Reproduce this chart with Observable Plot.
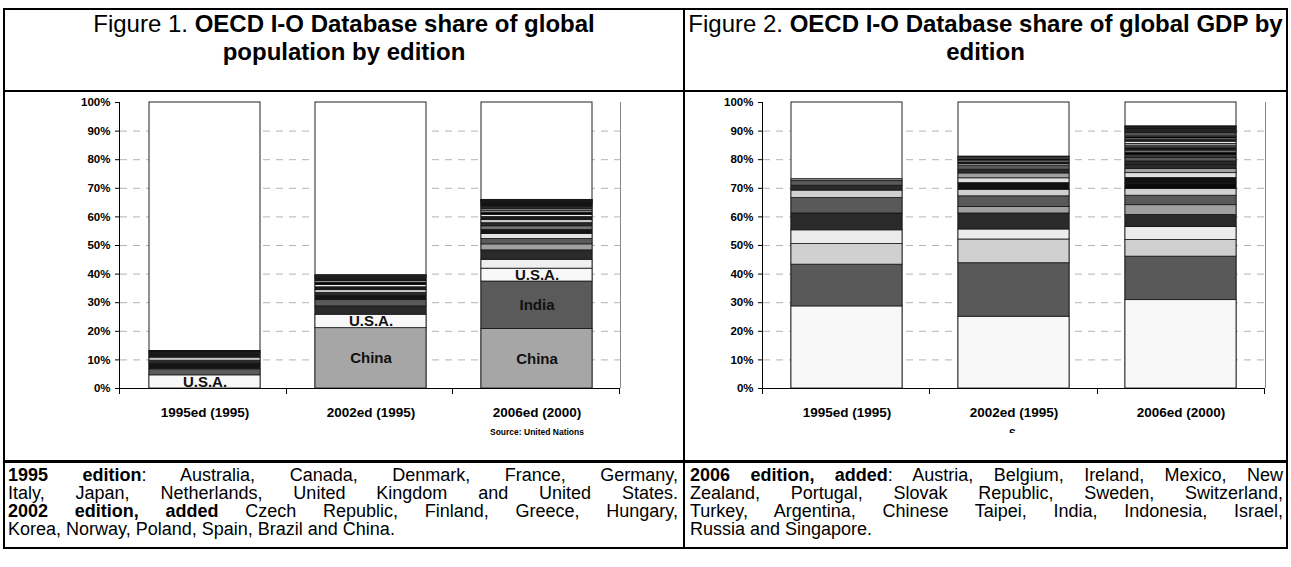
<!DOCTYPE html>
<html><head><meta charset="utf-8">
<script src="https://cdn.jsdelivr.net/npm/d3@7"></script>
<script src="https://cdn.jsdelivr.net/npm/@observablehq/plot@0.6"></script>
<style>
body{margin:0;background:#fff;font-family:"Liberation Sans",Arial,sans-serif;color:#000}
#page{position:relative;width:1291px;height:567px;overflow:hidden;background:#fff}
.ln{position:absolute;background:#000}
.title{position:absolute;text-align:center;font-size:24px;line-height:28px;white-space:nowrap}
.note{position:absolute;font-size:18px;line-height:18px;white-space:nowrap}
.note .j{text-align:justify;text-align-last:justify}
.chart{position:absolute}
.src{position:absolute;font-size:8.5px;font-weight:bold;white-space:nowrap}
</style></head><body>
<div id="page">
  <div class="ln" style="left:3px;top:8px;width:1285px;height:2px"></div>
  <div class="ln" style="left:3px;top:90px;width:1285px;height:2px"></div>
  <div class="ln" style="left:3px;top:460px;width:1285px;height:3px"></div>
  <div class="ln" style="left:3px;top:547px;width:1285px;height:2px"></div>
  <div class="ln" style="left:3px;top:8px;width:2px;height:541px"></div>
  <div class="ln" style="left:683px;top:8px;width:2px;height:541px"></div>
  <div class="ln" style="left:1286px;top:8px;width:2px;height:541px"></div>

  <div class="title" style="left:5px;top:10px;width:678px">Figure 1. <b>OECD I-O Database share of global<br>population by edition</b></div>
  <div class="title" style="left:685px;top:10px;width:601px">Figure 2. <b>OECD I-O Database share of global GDP by<br>edition</b></div>

  <div id="fig1" class="chart" style="left:0px;top:92px"></div>
  <div id="fig2" class="chart" style="left:686px;top:92px"></div>
  <div class="src" style="left:490px;top:427px">Source: United Nations</div>
  <div style="position:absolute;left:1009px;top:429px;width:8px;height:4px;overflow:hidden"><div class="src" style="position:relative;top:-1px;font-size:10px">S</div></div>

  <div class="note" style="left:8px;top:466px;width:670px">
    <div class="j"><b>1995 edition</b>: Australia, Canada, Denmark, France, Germany,</div>
    <div class="j">Italy, Japan, Netherlands, United Kingdom and United States.</div>
    <div class="j"><b>2002 edition, added</b> Czech Republic, Finland, Greece, Hungary,</div>
    <div>Korea, Norway, Poland, Spain, Brazil and China.</div>
  </div>
  <div class="note" style="left:690px;top:466px;width:593px">
    <div class="j"><b>2006 edition, added</b>: Austria, Belgium, Ireland, Mexico, New</div>
    <div class="j">Zealand, Portugal, Slovak Republic, Sweden, Switzerland,</div>
    <div class="j">Turkey, Argentina, Chinese Taipei, India, Indonesia, Israel,</div>
    <div>Russia and Singapore.</div>
  </div>
</div>
<script>
// ---------- data ----------
const editions = ["1995ed (1995)", "2002ed (1995)", "2006ed (2000)"];
const worldTotal = 100; // each bar is the whole world (100%)
const yTicks = [0, 10, 20, 30, 40, 50, 60, 70, 80, 90, 100];

// Figure 1: share of global population (%), stacked bottom -> top
const popCountries = ["China","India","United States","Indonesia","Brazil","Russia","Japan","Mexico","Germany","Turkey","France","United Kingdom","Italy","Korea","Spain","Poland","Argentina","Canada","Chinese Taipei","Australia","Netherlands","Greece","Portugal","Belgium","Czech Republic","Hungary","Sweden","Austria","Switzerland","Israel","Slovak Republic","Denmark","Finland","Norway","Singapore","Ireland","New Zealand"];
const pop1995ed = [0,0,4.6,0,0,0,2.1,0,1.9,0,1.1,1.1,1.1,0,0,0,0,0.5,0,0.3,0.3,0,0,0,0,0,0,0,0,0,0,0.1,0,0,0,0,0];
const pop2002ed = [21.1,0,4.7,0,2.9,0,2.2,0,1.5,0,1.0,1.0,1.0,0.8,0.7,0.7,0,0.5,0,0.35,0.3,0.2,0,0,0.18,0.18,0,0,0,0,0,0.1,0.1,0.08,0,0,0];
const pop2006ed = [20.8,16.6,4.5,3.1,3.3,2.1,1.9,1.7,1.5,1.2,1.1,1.1,1.05,0.78,0.66,0.63,0.61,0.51,0.36,0.31,0.26,0.18,0.17,0.17,0.17,0.17,0.15,0.13,0.12,0.1,0.09,0.09,0.09,0.07,0.07,0.06,0.06];
const popLabelCountries = ["China","India","United States"];
const popLabelTexts = ["China","India","U.S.A."];

// Figure 2: share of global GDP (%), stacked bottom -> top
const gdpCountries = ["United States","Japan","Germany","United Kingdom","France","China","Italy","Canada","Mexico","Brazil","Spain","Korea","India","Australia","Netherlands","Chinese Taipei","Russia","Switzerland","Sweden","Belgium","Turkey","Argentina","Austria","Poland","Norway","Indonesia","Denmark","Israel","Finland","Greece","Portugal","Ireland","Singapore","Czech Republic","New Zealand","Hungary","Slovak Republic"];
const gdp1995ed = [28.7,14.6,7.2,4.8,5.9,0,5.4,2.6,0,0,0,0,0,1.7,1.6,0,0,0,0,0,0,0,0,0,0,0,0.7,0,0,0,0,0,0,0,0,0,0];
const gdp2002ed = [25.1,18.7,8.3,3.5,5.6,2.3,3.7,2.3,0,2.3,1.7,1.7,0,1.3,1.4,0,0,0,0,0,0,0,0,0.5,0.6,0,0.7,0,0.5,0.5,0,0,0,0.2,0,0.2,0];
const gdp2006ed = [30.9,15.2,5.8,4.6,4.2,3.4,3.3,2.4,1.8,2.0,1.7,1.5,1.4,1.2,1.2,1.0,0.8,0.8,0.8,0.7,0.8,0.8,0.6,0.5,0.5,0.5,0.5,0.4,0.4,0.4,0.35,0.3,0.3,0.2,0.15,0.15,0.1];

// ---------- styles (grey fills per series, as in the print version) ----------
const popGreys = ["#a6a6a6","#5a5a5a","#f8f8f8","#efefef","#2a2a2a","#a0a0a0","#5a5a5a","#e4e4e4","#151515","#7a7a7a","#2a2a2a","#c8c8c8","#1a1a1a","#efefef","#000000","#8c8c8c","#d8d8d8","#222222","#f4f4f4","#555555","#000000","#bbbbbb","#111111","#e8e8e8","#333333","#ffffff","#000000","#999999","#1a1a1a","#dddddd","#000000","#777777","#f0f0f0","#111111","#aaaaaa","#000000","#cccccc"];
const gdpGreys = ["#f8f8f8","#595959","#d0d0d0","#ececec","#2a2a2a","#a0a0a0","#595959","#d0d0d0","#0a0a0a","#111111","#e0e0e0","#a0a0a0","#2a2a2a","#2a2a2a","#5a5a5a","#3a3a3a","#000000","#777777","#1a1a1a","#555555","#9a9a9a","#e8e8e8","#222222","#f4f4f4","#000000","#bbbbbb","#888888","#ffffff","#111111","#e0e0e0","#000000","#cccccc","#1a1a1a","#f0f0f0","#000000","#999999","#000000"];

const font = "'Liberation Sans', Arial, sans-serif";

function frameMark(index, scales, values, dims) {
  const r0 = dims.marginLeft, r1 = dims.width - dims.marginRight;
  const yb = dims.height - dims.marginBottom, yt = dims.marginTop;
  const step = (r1 - r0) / editions.length;
  const g = d3.create("svg:g");
  g.append("line").attr("x1", r1 + 0.5).attr("x2", r1 + 0.5).attr("y1", yt).attr("y2", yb).attr("stroke", "#888");
  g.append("line").attr("x1", r0 - 0.5).attr("x2", r0 - 0.5).attr("y1", yt).attr("y2", yb).attr("stroke", "#000");
  for (let k = 0; k <= editions.length; k++) {
    const xx = Math.round(r0 + k * step) - 0.5;
    g.append("line").attr("x1", xx).attr("x2", xx).attr("y1", yb).attr("y2", yb + 6).attr("stroke", "#000");
  }
  return g.node();
}

function stackedChart({countries, shares, greys, labelCountries, labelTexts, width, marginLeft, marginRight}) {
  const rows = [];
  editions.forEach((ed, i) => countries.forEach((c, j) => {
    const v = shares[i][j];
    if (v > 0) rows.push({edition: ed, country: c, share: v});
  }));
  const labelOf = d => { const k = labelCountries.indexOf(d.country); return k < 0 ? "" : labelTexts[k]; };
  return Plot.plot({
    width, height: 340,
    marginLeft, marginRight, marginTop: 10, marginBottom: 44,
    style: {fontFamily: font, fontSize: "11px", background: "transparent", color: "#000", overflow: "visible"},
    x: {domain: editions, paddingInner: 1/3, paddingOuter: 1/6, axis: null},
    y: {domain: [0, worldTotal], axis: null},
    color: {domain: countries, range: greys},
    marks: [
      Plot.gridY(yTicks.slice(1, -1), {stroke: "#b4b4b4", strokeOpacity: 1, strokeDasharray: "7,6"}),
      Plot.barY(editions, {x: d => d, y1: () => 0, y2: () => worldTotal, fill: "#fff", stroke: "#222", strokeWidth: 1}),
      Plot.barY(rows, {x: "edition", y: "share", fill: "country", stroke: "#151515", strokeWidth: 0.8}),
      Plot.text(rows, Plot.stackY({x: "edition", y: "share", text: labelOf, fontWeight: "bold", fontSize: 15, fill: "#111"})),
      Plot.ruleY([0], {stroke: "#000"}),
      Plot.axisY(yTicks, {tickFormat: d => d + "%", tickSize: 5, tickPadding: 5, fontWeight: "bold", fontSize: 11.5, stroke: "#000", label: null}),
      Plot.axisX({tickSize: 0, tickPadding: 19, fontWeight: "bold", fontSize: 13.5, label: null}),
      frameMark
    ]
  });
}

document.getElementById("fig1").append(stackedChart({
  countries: popCountries, shares: [pop1995ed, pop2002ed, pop2006ed], greys: popGreys,
  labelCountries: popLabelCountries, labelTexts: popLabelTexts,
  width: 684, marginLeft: 120, marginRight: 64
}));
document.getElementById("fig2").append(stackedChart({
  countries: gdpCountries, shares: [gdp1995ed, gdp2002ed, gdp2006ed], greys: gdpGreys,
  labelCountries: [], labelTexts: [],
  width: 600, marginLeft: 77, marginRight: 21
}));
</script>
</body></html>
